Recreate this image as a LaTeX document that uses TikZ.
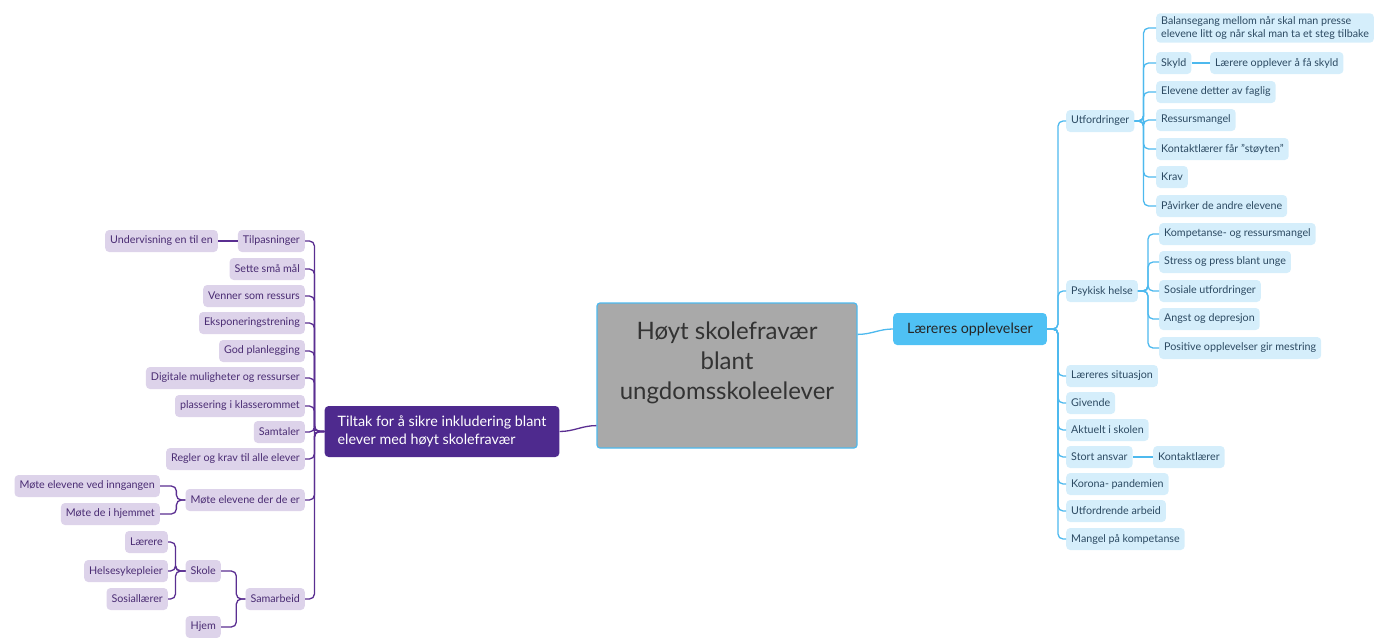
\documentclass[tikz,border=0pt]{standalone}
\usepackage{fontspec}
\setmainfont{Lato}
\definecolor{lineblue}{HTML}{4DB9EE}
\definecolor{nodeblue}{HTML}{D5EEFB}
\definecolor{textblue}{HTML}{2C4A62}
\definecolor{topblue}{HTML}{4FC1F4}
\definecolor{linepurple}{HTML}{5A2E91}
\definecolor{nodepurple}{HTML}{DDD3EA}
\definecolor{textpurple}{HTML}{4A2C73}
\definecolor{toppurple}{HTML}{4E2A8E}
\definecolor{hubgray}{HTML}{A9A9A9}
\tikzset{
  bline/.style={draw=lineblue, line width=1.3pt, rounded corners=5pt},
  pline/.style={draw=linepurple, line width=1.3pt, rounded corners=5pt},
  bnode/.style={fill=nodeblue, text=textblue, rounded corners=4pt, minimum height=22pt,
    inner xsep=5pt, inner ysep=3pt, align=left, font=\fontsize{10.7}{13.5}\selectfont},
  pnode/.style={fill=nodepurple, text=textpurple, rounded corners=4pt, minimum height=22pt,
    inner xsep=5pt, inner ysep=3pt, font=\fontsize{10.7}{13.5}\selectfont},
  lonode/.style={fill=topblue, text=black!85, rounded corners=4pt, minimum height=32pt,
    inner xsep=14pt, font=\fontsize{14.3}{16}\selectfont},
  tnode/.style={fill=toppurple, text=white, rounded corners=4pt, minimum height=51pt,
    inner xsep=13pt, align=left, font=\fontsize{14.3}{18}\selectfont},
  hub/.style={fill=hubgray, draw=lineblue, line width=1.2pt, rounded corners=3pt,
    minimum width=260pt, minimum height=145pt},
  hubtext/.style={text=black!80, align=center, inner sep=0pt, font=\fontsize{24}{30}\selectfont}
}
\begin{document}
\begin{tikzpicture}[x=1pt,y=-1pt]
\useasboundingbox (0,0) rectangle (1378,637);

% centre
\node[hub] (hub) at (727,375.5) {};
\node[hubtext, anchor=north] (title) at (727,322) {Høyt skolefravær\\blant\\ungdomsskoleelever};

% right branch
\node[lonode] (lo) at (970,329) {Læreres opplevelser};
\draw[bline] ([yshift=-32pt]hub.north east) to[out=0,in=180] (lo.west);
\foreach \nm/\yy/\txt in {utf/121/Utfordringer, psy/291/Psykisk helse, sit/376/Læreres situasjon,
    giv/403/Givende, akt/430/Aktuelt i skolen, ans/457/Stort ansvar, kor/484/Korona- pandemien,
    arb/511/Utfordrende arbeid, kom/539/Mangel på kompetanse}{
  \node[bnode, anchor=west] (\nm) at (1066,\yy) {\txt};
  \draw[bline] (lo.east) -- ++(11,0) |- (\nm.west);
}
\foreach \nm/\yy/\txt in {bal/28/{Balansegang mellom når skal man presse\\elevene litt og når skal man ta et steg tilbake},
    sky/63/Skyld, det/92/Elevene detter av faglig, res/120/Ressursmangel,
    kon/149/Kontaktlærer får "støyten", kra/177/Krav, pav/206/Påvirker de andre elevene}{
  \node[bnode, anchor=west] (\nm) at (1156,\yy) {\txt};
  \draw[bline] (utf.east) -- ++(9,0) |- (\nm.west);
}
\node[bnode, anchor=west] (lop) at (1210,63) {Lærere opplever å få skyld};
\draw[bline] (sky.east) -- (lop.west);
\foreach \nm/\yy/\txt in {kr/234/Kompetanse- og ressursmangel, str/262/Stress og press blant unge,
    sos/291/Sosiale utfordringer, ang/319/Angst og depresjon, pos/348/Positive opplevelser gir mestring}{
  \node[bnode, anchor=west] (\nm) at (1159,\yy) {\txt};
  \draw[bline] (psy.east) -- ++(10,0) |- (\nm.west);
}
\node[bnode, anchor=west] (klr) at (1153,457) {Kontaktlærer};
\draw[bline] (ans.east) -- (klr.west);

% left branch
\node[tnode] (tiltak) at (442,431.5) {Tiltak for å sikre inkludering blant\\elever med høyt skolefravær};
\draw[pline] ([yshift=23pt]hub.south west) to[out=180,in=0] (tiltak.east);
\foreach \nm/\yy/\txt in {til/241/Tilpasninger, sma/269/Sette små mål, ven/296/Venner som ressurs,
    eks/323/Eksponeringstrening, pla/351/God planlegging, dig/378/Digitale muligheter og ressurser,
    kla/406/plassering i klasserommet, sam/432/Samtaler, reg/459/Regler og krav til alle elever,
    mot/500/Møte elevene der de er, sab/599/Samarbeid}{
  \node[pnode, anchor=east] (\nm) at (305,\yy) {\txt};
  \draw[pline] (tiltak.west) -- ++(-10,0) |- (\nm.east);
}
\node[pnode, anchor=east] (und) at (218,241) {Undervisning en til en};
\draw[pline] (til.west) -- (und.east);
\foreach \nm/\yy/\txt in {inn/486/Møte elevene ved inngangen, hje/514/Møte de i hjemmet}{
  \node[pnode, anchor=east] (\nm) at (160,\yy) {\txt};
  \draw[pline] (mot.west) -- ++(-9,0) |- (\nm.east);
}
\foreach \nm/\yy/\txt in {sko/571/Skole, hjm/627/Hjem}{
  \node[pnode, anchor=east] (\nm) at (221,\yy) {\txt};
  \draw[pline] (sab.west) -- ++(-9,0) |- (\nm.east);
}
\foreach \nm/\yy/\txt in {lae/542/Lærere, hel/571/Helsesykepleier, soc/599/Sosiallærer}{
  \node[pnode, anchor=east] (\nm) at (168,\yy) {\txt};
  \draw[pline] (sko.west) -- ++(-10,0) |- (\nm.east);
}
\end{tikzpicture}
\end{document}
